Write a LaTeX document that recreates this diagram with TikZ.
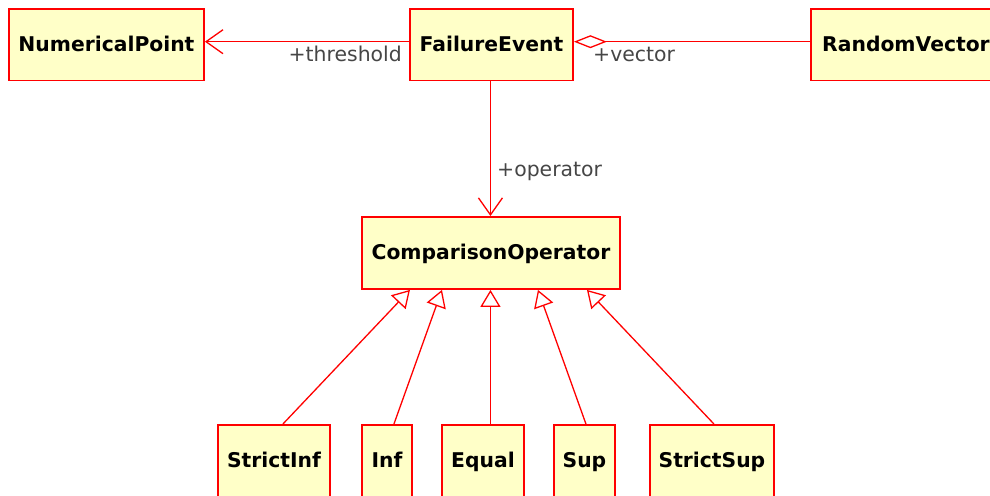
\documentclass[tikz,border=0pt]{standalone}
\usepackage{fontspec}
\setmainfont{DejaVu Sans}
\usetikzlibrary{arrows.meta}
\definecolor{boxfill}{RGB}{255,255,200}
\definecolor{linkred}{RGB}{255,0,0}
\definecolor{rolegray}{RGB}{70,70,70}
\begin{document}
\begin{tikzpicture}[x=1pt,y=-1pt,
  cls/.style={draw=linkred, line width=1.9pt, fill=boxfill, inner sep=0pt,
    anchor=north west, minimum height=71.5pt, text height=13pt, text depth=0pt,
    font=\fontsize{20.3}{24}\selectfont\bfseries},
  link/.style={draw=linkred, line width=1.3pt},
  assoc/.style={link, -{Straight Barb[length=17pt,width=24pt,line width=1.3pt]}},
  aggr/.style={link, -{Diamond[open,length=33pt,width=13pt,fill=white,line width=1.3pt]}},
  gen/.style={link, -{Triangle[open,length=17pt,width=20pt,fill=white,line width=1.3pt]}},
  role/.style={text=rolegray, inner sep=0pt, font=\fontsize{20.4}{24}\selectfont}
]
\useasboundingbox (0,0) rectangle (990,495);
\clip (0,0) rectangle (990,495);

% classes
\node[cls, minimum width=195pt] (np) at (8,8) {NumericalPoint};
\node[cls, minimum width=163pt] (fe) at (409,8) {FailureEvent};
\node[cls, minimum width=190pt] (rv) at (810,8) {RandomVector};
\node[cls, minimum width=258pt, minimum height=72pt] (co) at (361,216) {ComparisonOperator};

\node[cls, minimum width=112pt] (sinf) at (217,424) {StrictInf};
\node[cls, minimum width=50pt]  (inf)  at (361,424) {Inf};
\node[cls, minimum width=82pt]  (eq)   at (441,424) {Equal};
\node[cls, minimum width=61pt]  (sup)  at (553,424) {Sup};
\node[cls, minimum width=124pt] (ssup) at (649,424) {StrictSup};

% associations
\draw[assoc] ([yshift=3pt]fe.west) -- ([yshift=3pt]np.east);
\draw[aggr]  ([yshift=3pt]rv.west) -- ([yshift=3pt]fe.east);
\draw[assoc] ([xshift=-1pt]fe.south) -- ([xshift=-0.5pt]co.north);

% role names
\node[role, anchor=base east] (thr) at (402,62) {+threshold};
\node[role, anchor=base west] (vec) at (593,62) {+vector};
\node[role, anchor=base west] (op)  at (497,176) {+operator};

% generalizations
\draw[gen] ([xshift=9pt]sinf.north) -- ([xshift=-81pt]co.south);
\draw[gen] ([xshift=7pt]inf.north)  -- ([xshift=-49pt]co.south);
\draw[gen] ([xshift=7.5pt]eq.north) -- ([xshift=-0.5pt]co.south);
\draw[gen] ([xshift=1.5pt]sup.north) -- ([xshift=47pt]co.south);
\draw[gen] ([xshift=2pt]ssup.north) -- ([xshift=96pt]co.south);
\end{tikzpicture}
\end{document}
